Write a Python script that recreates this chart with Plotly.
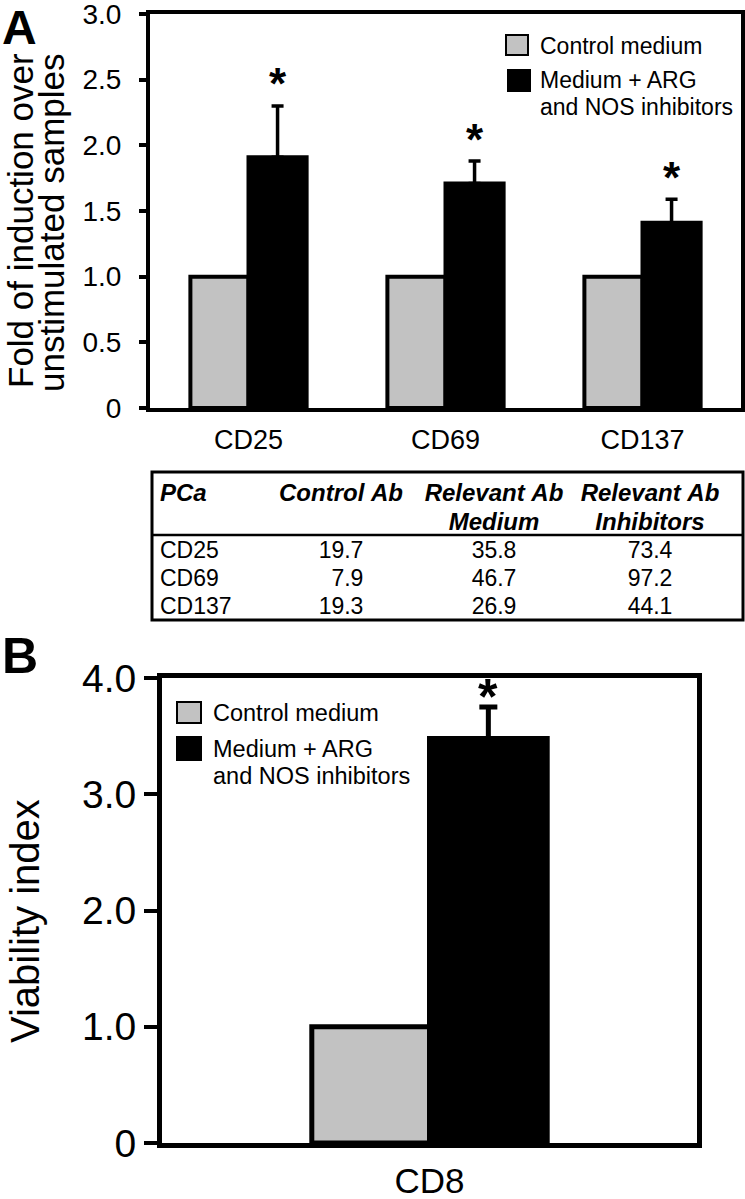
import plotly.graph_objects as go

W, H = 745, 1199
FONT = "Liberation Sans, Arial, sans-serif"
GRAY = "#c2c2c2"
NBSP = "\u00a0"

# ---------------- data ----------------
categories_a = ["CD25", "CD69", "CD137"]
control_a = [1.0, 1.0, 1.0]
treated_a = [1.91, 1.71, 1.41]
treated_a_err = [0.39, 0.17, 0.18]
yticks_a = [0, 0.5, 1.0, 1.5, 2.0, 2.5, 3.0]
yticklabels_a = ["0", "0.5", "1.0", "1.5", "2.0", "2.5", "3.0"]

categories_b = ["CD8"]
control_b = [1.0]
treated_b = [3.48]
treated_b_err = [0.27]
yticks_b = [0, 1, 2, 3, 4]
yticklabels_b = ["0", "1.0", "2.0", "3.0", "4.0"]

series_names = ["Control medium", "Medium + ARG<br>and NOS inhibitors"]

table_header = ["PCa", "Control Ab", "Relevant Ab<br>Medium", "Relevant Ab<br>Inhibitors"]
table_rows = ["CD25", "CD69", "CD137"]
table_control = [19.7, 7.9, 19.3]
table_medium = [35.8, 46.7, 26.9]
table_inhib = [73.4, 97.2, 44.1]

# ---------------- layout helpers ----------------
def px(x):
    return x / W

def py(y):
    return 1 - y / H

A_X, A_Y = (150, 741), (14, 408)
B_X, B_Y = (162, 697), (678, 1143)
BW_A, BW_B = 0.295, 0.22
SERIES_COLORS = [GRAY, "black"]

def fmt(v):
    return f"{v:4.1f}".replace(" ", "\u2007")

fig = go.Figure()

# Panel A bars
fig.add_trace(go.Bar(
    x=categories_a, y=control_a, name=series_names[0],
    marker=dict(color=SERIES_COLORS[0], line=dict(color="black", width=4)),
    width=BW_A, offset=-BW_A, xaxis="x", yaxis="y", showlegend=False))
fig.add_trace(go.Bar(
    x=categories_a, y=treated_a, name=series_names[1],
    marker=dict(color=SERIES_COLORS[1], line=dict(color="black", width=4)),
    error_y=dict(type="data", array=treated_a_err, arrayminus=[0] * len(treated_a),
                 symmetric=False, color="black", thickness=3.5, width=6),
    width=BW_A, offset=0, xaxis="x", yaxis="y", showlegend=False))

# Panel B bars
fig.add_trace(go.Bar(
    x=categories_b, y=control_b, name=series_names[0],
    marker=dict(color=SERIES_COLORS[0], line=dict(color="black", width=5)),
    width=BW_B, offset=-BW_B, xaxis="x2", yaxis="y2", showlegend=False))
fig.add_trace(go.Bar(
    x=categories_b, y=treated_b, name=series_names[1],
    marker=dict(color=SERIES_COLORS[1], line=dict(color="black", width=5)),
    error_y=dict(type="data", array=treated_b_err, arrayminus=[0] * len(treated_b),
                 symmetric=False, color="black", thickness=5, width=9),
    width=BW_B, offset=0, xaxis="x2", yaxis="y2", showlegend=False))

# Table (two header rows, bold italic via font attributes)
hdr_lines = [h.split("<br>") for h in table_header]
hdr_values = [[ln.replace(" ", NBSP) for ln in (l + [""])[:2]] for l in hdr_lines]
fig.add_trace(go.Table(
    domain=dict(x=[px(152), px(728)], y=[py(621), py(474.5)]),
    columnwidth=[114, 150, 156, 156],
    header=dict(values=hdr_values,
                align=["left", "center", "center", "center"],
                font=dict(size=24, color="black", family=FONT, weight="bold", style="italic"),
                fill_color="rgba(0,0,0,0)", line=dict(color="rgba(0,0,0,0)", width=0),
                height=29.25),
    cells=dict(values=[table_rows,
                       [fmt(v) for v in table_control],
                       [fmt(v) for v in table_medium],
                       [fmt(v) for v in table_inhib]],
               align=["left", "center", "center", "center"],
               font=dict(size=23, color="black", family=FONT),
               fill_color="rgba(0,0,0,0)", line=dict(color="rgba(0,0,0,0)", width=0),
               height=28)))

axis_common = dict(showgrid=False, zeroline=False, showline=True, linecolor="black",
                   mirror=True, color="black", ticklabeloverflow="allow")

annotations = []
shapes = []

def text_at(text, x, y, size, **kw):
    d = dict(text=text, x=px(x), y=py(y), xref="paper", yref="paper", showarrow=False,
             xanchor=kw.pop("xanchor", "left"), yanchor=kw.pop("yanchor", "middle"),
             font=dict(size=size, color="black", **kw.pop("font", {})))
    d.update(kw)
    annotations.append(d)

# panel letters
text_at("<b>A</b>", 0, 28, 48)
text_at("<b>B</b>", 0, 656, 50)
# y titles
text_at("Fold of induction over", 21, 221, 35, xanchor="center", textangle=-90)
text_at("unstimulated samples", 52, 223, 35, xanchor="center", textangle=-90)
text_at("Viability index", 25, 921, 40, xanchor="center", textangle=-90)

# manual legends
def legend_at(boxes, text_x, text_rows, size):
    for (x0, y0, x1, y1), col in zip(boxes, SERIES_COLORS):
        shapes.append(dict(type="rect", xref="paper", yref="paper",
                           x0=px(x0), x1=px(x1), y0=py(y1), y1=py(y0),
                           fillcolor=col, line=dict(color="black", width=2)))
    for name, ys in zip(series_names, text_rows):
        for ln, yy in zip(name.split("<br>"), ys):
            text_at(ln, text_x, yy, size)

legend_at([(506, 35, 528, 55), (508, 70, 530, 91)], 538, [[46], [80, 107]], 23)
legend_at([(177, 702, 201, 723), (177, 737, 201, 760)], 211, [[713], [749, 776]], 23.5)

# significance asterisks
cat_px_a = (A_X[1] - A_X[0]) / len(categories_a)
for c, v, e in zip(categories_a, treated_a, treated_a_err):
    annotations.append(dict(text="*", x=c, y=v + e, xref="x", yref="y", showarrow=False,
                            xshift=BW_A * cat_px_a / 2, yshift=22, yanchor="middle",
                            font=dict(size=44, color="black", weight="bold")))
cat_px_b = (B_X[1] - B_X[0]) / len(categories_b)
for c, v, e in zip(categories_b, treated_b, treated_b_err):
    annotations.append(dict(text="*", x=c, y=v + e, xref="x2", yref="y2", showarrow=False,
                            xshift=BW_B * cat_px_b / 2, yshift=10, yanchor="middle",
                            font=dict(size=50, color="black", weight="bold")))

shapes += [
    dict(type="rect", xref="paper", yref="paper", x0=px(152), x1=px(743), y0=py(620), y1=py(472),
         line=dict(color="black", width=3)),
    dict(type="line", xref="paper", yref="paper", x0=px(152), x1=px(743), y0=py(535), y1=py(535),
         line=dict(color="black", width=2.5)),
]

fig.update_layout(
    width=W, height=H, autosize=False,
    margin=dict(l=0, r=0, t=0, b=0, autoexpand=False),
    paper_bgcolor="white", plot_bgcolor="white",
    font=dict(family=FONT, color="black"),
    showlegend=False,
    xaxis=dict(domain=[px(A_X[0]), px(A_X[1])], anchor="y", type="category",
               range=[-0.5, len(categories_a) - 0.5], ticks="", linewidth=4,
               tickfont=dict(size=27), ticklabelstandoff=5, **axis_common),
    yaxis=dict(domain=[py(A_Y[1]), py(A_Y[0])], anchor="x", range=[0, 3],
               tickvals=yticks_a, ticktext=yticklabels_a, ticks="outside", ticklen=7,
               tickwidth=4, tickcolor="black", linewidth=4, tickfont=dict(size=28),
               ticklabelstandoff=12, **axis_common),
    xaxis2=dict(domain=[px(B_X[0]), px(B_X[1])], anchor="y2", type="category",
                range=[-0.5, len(categories_b) - 0.5], ticks="", linewidth=5,
                tickfont=dict(size=35), ticklabelstandoff=3, **axis_common),
    yaxis2=dict(domain=[py(B_Y[1]), py(B_Y[0])], anchor="x2", range=[0, 4],
                tickvals=yticks_b, ticktext=yticklabels_b, ticks="outside", ticklen=13,
                tickwidth=4, tickcolor="black", linewidth=5, tickfont=dict(size=39),
                **axis_common),
    annotations=annotations,
    shapes=shapes,
)

fig.write_html("out.html", config={"displayModeBar": False},
               post_script="document.body.style.margin='0px';")
